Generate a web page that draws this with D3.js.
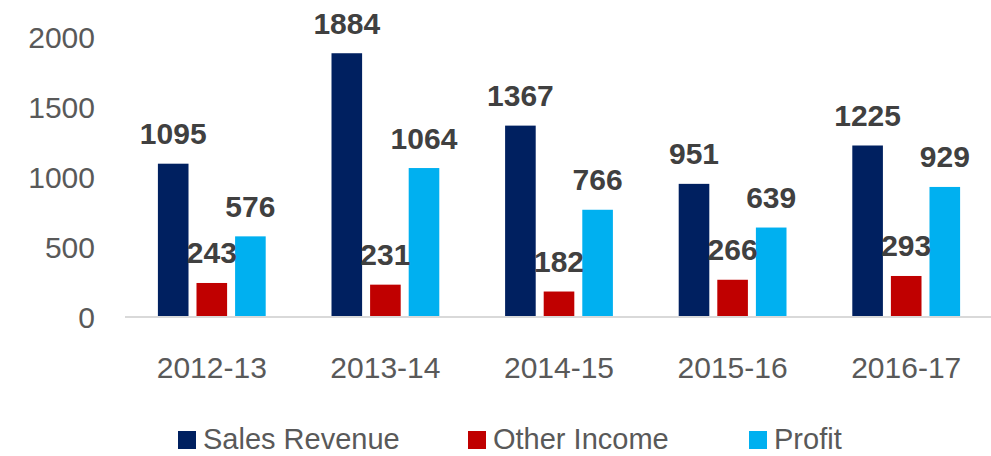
<!DOCTYPE html>
<html>
<head>
<meta charset="utf-8">
<script src="https://cdn.jsdelivr.net/npm/d3@7"></script>
<style>
  html, body { margin: 0; padding: 0; background: #fff; }
  svg { display: block; font-family: "Liberation Sans", Arial, sans-serif; }
</style>
</head>
<body>
<svg id="chart" width="991" height="456"></svg>
<script>
const categories = ["2012-13", "2013-14", "2014-15", "2015-16", "2016-17"];
const seriesNames = ["Sales Revenue", "Other Income", "Profit"];
const salesRevenue = [1095, 1884, 1367, 951, 1225];
const otherIncome = [243, 231, 182, 266, 293];
const profit = [576, 1064, 766, 639, 929];
const yTicks = [0, 500, 1000, 1500, 2000];
const colors = ["#002060", "#C00000", "#00B0F0"];

const seriesValues = [salesRevenue, otherIncome, profit];

const svg = d3.select("#chart");
const W = 991, H = 456;
const plot = { left: 125, right: 993, top: 37, bottom: 317 };

const x = d3.scaleBand().domain(categories).range([plot.left, plot.right]).paddingInner(0).paddingOuter(0);
const groupW = 107.8;
const xInner = d3.scaleBand().domain(seriesNames).range([-groupW / 2, groupW / 2]).paddingInner(0.207).paddingOuter(0);
const y = d3.scaleLinear().domain([0, 2000]).range([plot.bottom, plot.top]);

// Y axis labels
const yAxis = d3.axisLeft(y).tickValues(yTicks).tickFormat(d3.format("d")).tickSize(0).tickPadding(0);
const yg = svg.append("g").attr("transform", `translate(95,0)`).call(yAxis);
yg.select(".domain").remove();
yg.selectAll("text")
  .attr("fill", "#595959")
  .style("font-size", "30px")
  .style("font-family", "'Liberation Sans', Arial, sans-serif")
  .attr("dy", "0.36em");

// X axis labels
const xAxis = d3.axisBottom(x).tickSize(0).tickPadding(0);
const xg = svg.append("g").attr("transform", `translate(0,${plot.bottom})`).call(xAxis);
xg.select(".domain").remove();
xg.selectAll("text")
  .attr("fill", "#595959")
  .style("font-size", "30px")
  .style("font-family", "'Liberation Sans', Arial, sans-serif")
  .attr("dy", null)
  .attr("y", 61);

// Bars
const groups = svg.append("g").selectAll("g.cat")
  .data(categories)
  .join("g")
  .attr("class", "cat")
  .attr("transform", d => `translate(${x(d) + x.bandwidth() / 2},0)`);

seriesNames.forEach((name, si) => {
  groups.append("rect")
    .attr("x", xInner(name))
    .attr("width", xInner.bandwidth())
    .attr("y", (d, i) => y(seriesValues[si][i]))
    .attr("height", (d, i) => y(0) - y(seriesValues[si][i]))
    .attr("fill", colors[si]);
});

// Baseline axis
svg.append("line")
  .attr("x1", plot.left).attr("x2", W)
  .attr("y1", y(0)).attr("y2", y(0))
  .attr("stroke", "#D9D9D9").attr("stroke-width", 2);

// Data labels
seriesNames.forEach((name, si) => {
  groups.append("text")
    .attr("x", xInner(name) + xInner.bandwidth() / 2)
    .attr("y", (d, i) => y(seriesValues[si][i]) - 19.5)
    .attr("text-anchor", "middle")
    .attr("fill", "#404040")
    .style("font-size", "30px")
    .style("font-weight", "bold")
    .text((d, i) => seriesValues[si][i]);
});

// Legend
const legendOffsets = [0, 290, 571];
const legend = svg.append("g").attr("transform", "translate(178,449)");
seriesNames.forEach((name, si) => {
  const item = legend.append("g").attr("transform", `translate(${legendOffsets[si]},0)`);
  item.append("rect").attr("x", 0).attr("y", -18).attr("width", 18).attr("height", 18).attr("fill", colors[si]);
  item.append("text").attr("x", 25).attr("y", 0)
    .attr("fill", "#595959").style("font-size", "29px").text(name);
});
</script>
</body>
</html>
